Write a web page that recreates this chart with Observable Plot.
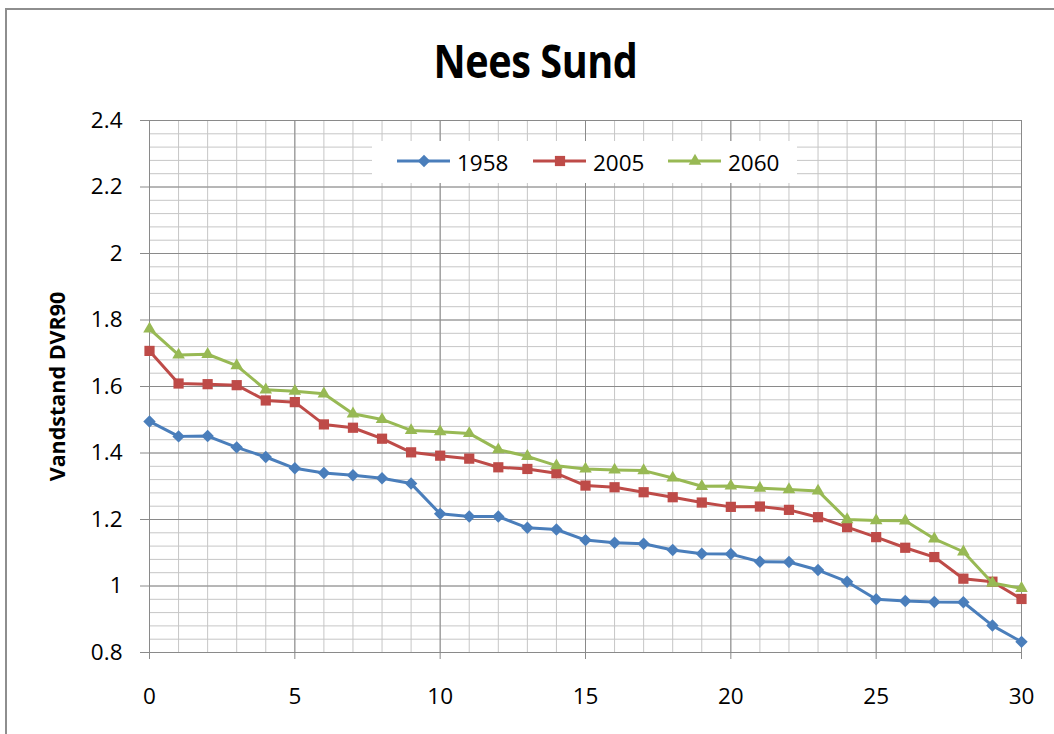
<!DOCTYPE html>
<html>
<head>
<meta charset="utf-8">
<script src="https://cdn.jsdelivr.net/npm/d3@7"></script>
<script src="https://cdn.jsdelivr.net/npm/@observablehq/plot@0.6"></script>
<style>
  html, body { margin: 0; padding: 0; background: #fff; }
  body { font-family: "Open Sans", sans-serif; }
  #wrap { position: relative; width: 1054px; height: 734px; overflow: hidden; background: #fff; }
  #border { position: absolute; left: 5px; top: 8px; width: 1100px; height: 800px; border-left: 2px solid #8e8e8e; border-top: 2px solid #8e8e8e; }
  #title { position: absolute; left: 0; top: 37px; width: 1070px; text-align: center; line-height: 1; }
  #title span { display: inline-block; font-size: 46px; font-weight: bold; transform: scaleX(0.86); transform-origin: center; letter-spacing: -0.5px; }
  #chart { position: absolute; left: 0; top: 100px; }
  #legend { position: absolute; left: 372px; top: 141px; width: 425px; height: 42px; background: #fff; }
</style>
</head>
<body>
<div id="wrap">
  <div id="border"></div>
  <div id="title"><span>Nees Sund</span></div>
  <div id="chart"></div>
  <div id="legend"></div>
</div>
<script>
const titleText = "Nees Sund";
const yLabel = "Vandstand DVR90";
const seriesNames = ["1958", "2005", "2060"];
const seriesColors = ["#4a7ebb", "#be4b48", "#98b954"];
const seriesSymbols = ["diamond2", "square2", "triangle2"];
const seriesR = [5.6, 6.5, 6];

const xValues = [0,1,2,3,4,5,6,7,8,9,10,11,12,13,14,15,16,17,18,19,20,21,22,23,24,25,26,27,28,29,30];
const v1958 = [1.495,1.450,1.451,1.417,1.388,1.354,1.340,1.333,1.324,1.308,1.217,1.209,1.209,1.175,1.170,1.138,1.130,1.127,1.108,1.097,1.096,1.073,1.072,1.048,1.013,0.960,0.955,0.952,0.951,0.881,0.832];
const v2005 = [1.707,1.609,1.607,1.604,1.558,1.553,1.486,1.476,1.443,1.402,1.392,1.383,1.357,1.352,1.339,1.302,1.297,1.282,1.267,1.251,1.238,1.239,1.229,1.207,1.177,1.147,1.115,1.087,1.022,1.013,0.961];
const v2060 = [1.773,1.695,1.697,1.663,1.590,1.586,1.578,1.518,1.501,1.468,1.464,1.459,1.410,1.390,1.362,1.352,1.349,1.347,1.325,1.300,1.301,1.294,1.290,1.286,1.200,1.197,1.196,1.142,1.103,1.009,0.993];

const xTicks = [0, 5, 10, 15, 20, 25, 30];
const yTicks = [0.8, 1.0, 1.2, 1.4, 1.6, 1.8, 2.0, 2.2, 2.4];
const xMinor = d3.range(0, 31, 1);
const yMinor = d3.range(0, 41).map(i => +(0.8 + i * 0.04).toFixed(2));

const seriesValues = [v1958, v2005, v2060];
const rows = [];
seriesNames.forEach((s, i) => {
  xValues.forEach((x, j) => rows.push({series: s, x, y: seriesValues[i][j]}));
});

const seriesMarks = [];
seriesNames.forEach((s, i) => {
  const data = rows.filter(d => d.series === s);
  seriesMarks.push(Plot.line(data, {x: "x", y: "y", stroke: seriesColors[i], strokeWidth: 3}));
  seriesMarks.push(Plot.dot(data, {x: "x", y: "y", fill: seriesColors[i], symbol: seriesSymbols[i], r: seriesR[i]}));
});

const chart = Plot.plot({
  width: 1054,
  height: 634,
  marginLeft: 149,
  marginRight: 33,
  marginTop: 20,
  marginBottom: 82,
  x: {domain: [0, 30]},
  y: {domain: [0.8, 2.4]},
  style: {fontFamily: "Open Sans, sans-serif", fontSize: "22px", color: "black", background: "transparent", overflow: "visible"},
  marks: [
    Plot.ruleX(xMinor, {stroke: "#c6c6c6", strokeWidth: 1}),
    Plot.ruleY(yMinor, {stroke: "#c6c6c6", strokeWidth: 1}),
    Plot.ruleX(xTicks, {stroke: "#8a8a8a", strokeWidth: 1}),
    Plot.ruleY(yTicks, {stroke: "#8a8a8a", strokeWidth: 1}),
    Plot.axisX({ticks: xTicks, tickSize: 7, tickPadding: 29, stroke: "#8a8a8a", fontSize: 22.5, label: null, tickFormat: d => String(d)}),
    Plot.axisY({ticks: yTicks, tickSize: 9, tickPadding: 18, stroke: "#8a8a8a", fontSize: 22.5, label: null, tickFormat: d => String(+d.toFixed(1))}),
    ...seriesMarks,
    Plot.text([yLabel], {frameAnchor: "left", dx: -91, rotate: -90, textAnchor: "middle", lineAnchor: "middle", fontWeight: "bold", fontSize: 21.5, fill: "black"})
  ]
});
document.getElementById("chart").appendChild(chart);
document.querySelector("#title span").textContent = titleText;

// legend
const lg = d3.select("#legend").append("svg").attr("width", 425).attr("height", 42);
const lx = [25, 161, 296];
seriesNames.forEach((s, i) => {
  const g = lg.append("g").attr("transform", `translate(${lx[i]},20)`);
  g.append("line").attr("x1", 0).attr("x2", 53).attr("y1", 0).attr("y2", 0)
    .attr("stroke", seriesColors[i]).attr("stroke-width", 3);
  const sym = [d3.symbolDiamond2, d3.symbolSquare2, d3.symbolTriangle2][i];
  g.append("path").attr("transform", "translate(27,0)")
    .attr("d", d3.symbol(sym, Math.PI * seriesR[i] * seriesR[i])())
    .attr("fill", seriesColors[i]);
  g.append("text").attr("x", 60).attr("y", 10).attr("font-family", "Open Sans, sans-serif")
    .attr("font-size", 22.5).attr("fill", "black").text(s);
});
</script>
</body>
</html>
